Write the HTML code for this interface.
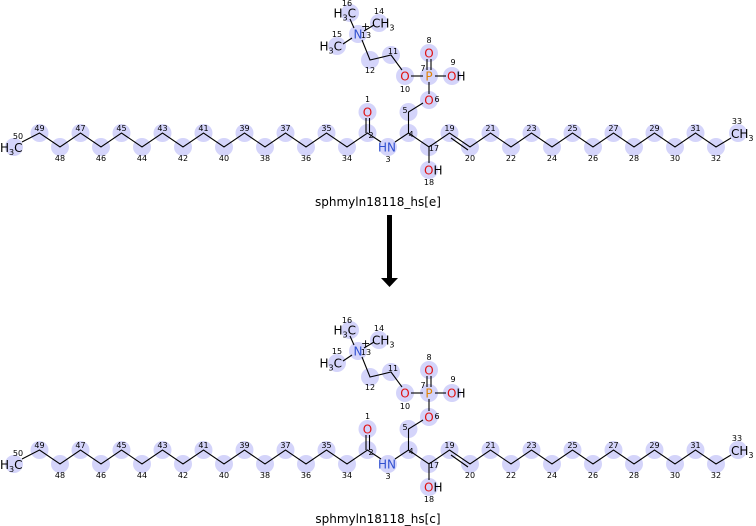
<!DOCTYPE html>
<html><head><meta charset="utf-8"><style>
html,body{margin:0;padding:0;background:#fff;width:756px;height:526px;overflow:hidden}
svg{display:block;font-family:"DejaVu Sans","Liberation Sans",sans-serif}
.c{fill:#d4d4fa}
.b{stroke:#000;stroke-width:1.1;fill:none}
.n{font-size:8px;fill:#000;text-anchor:middle}
.a{font-size:12px;text-anchor:middle}
.s{text-anchor:start}
.e{text-anchor:end}
.t{font-size:12px;text-anchor:middle;fill:#000}
</style></head><body>
<svg width="756" height="526" viewBox="0 0 756 526" xmlns="http://www.w3.org/2000/svg">
<g>
<g class="c">
<circle cx="14" cy="147" r="9"/><circle cx="39.5" cy="133" r="9"/><circle cx="60" cy="147" r="9"/><circle cx="80.5" cy="133" r="9"/><circle cx="101" cy="147" r="9"/><circle cx="121.5" cy="133" r="9"/><circle cx="142" cy="147" r="9"/><circle cx="162.5" cy="133" r="9"/><circle cx="183" cy="147" r="9"/><circle cx="203.5" cy="133" r="9"/><circle cx="224" cy="147" r="9"/><circle cx="244.5" cy="133" r="9"/><circle cx="265" cy="147" r="9"/><circle cx="285.5" cy="133" r="9"/><circle cx="306" cy="147" r="9"/><circle cx="326.5" cy="133" r="9"/><circle cx="347" cy="147" r="9"/><circle cx="367.5" cy="133" r="9"/><circle cx="367.5" cy="112" r="9"/><circle cx="388" cy="147" r="9"/><circle cx="408.5" cy="133" r="9"/><circle cx="408.5" cy="112" r="9"/><circle cx="429" cy="100" r="9"/><circle cx="429" cy="76" r="9"/><circle cx="429" cy="53" r="9"/><circle cx="452" cy="76" r="9"/><circle cx="405" cy="76" r="9"/><circle cx="391" cy="55" r="9"/><circle cx="370" cy="60" r="9"/><circle cx="358" cy="34" r="9"/><circle cx="379" cy="23" r="9"/><circle cx="337" cy="46" r="9"/><circle cx="350" cy="13" r="9"/><circle cx="429" cy="147" r="9"/><circle cx="429" cy="170" r="9"/><circle cx="449.5" cy="133" r="9"/><circle cx="470" cy="147" r="9"/><circle cx="490.5" cy="133" r="9"/><circle cx="511" cy="147" r="9"/><circle cx="531.5" cy="133" r="9"/><circle cx="552" cy="147" r="9"/><circle cx="572.5" cy="133" r="9"/><circle cx="593" cy="147" r="9"/><circle cx="613.5" cy="133" r="9"/><circle cx="634" cy="147" r="9"/><circle cx="654.5" cy="133" r="9"/><circle cx="675" cy="147" r="9"/><circle cx="695.5" cy="133" r="9"/><circle cx="716" cy="147" r="9"/><circle cx="738" cy="133" r="9"/>
</g>
<polyline class="b" points="22,142 39.5,133 60,147 80.5,133 101,147 121.5,133 142,147 162.5,133 183,147 203.5,133 224,147 244.5,133 265,147 285.5,133 306,147 326.5,133 347,147 367.5,133 381,142"/>
<line class="b" x1="366" y1="133" x2="366" y2="118"/><line class="b" x1="369.5" y1="133" x2="369.5" y2="118"/>
<polyline class="b" points="395,142 408.5,133 429,147 449.5,133 470,147 490.5,133 511,147 531.5,133 552,147 572.5,133 593,147 613.5,133 634,147 654.5,133 675,147 695.5,133 716,147 731,138"/>
<line class="b" x1="451" y1="138" x2="468" y2="150"/>
<line class="b" x1="429" y1="147" x2="429" y2="163"/>
<polyline class="b" points="408.5,133 408.5,112 423,103"/>
<line class="b" x1="429" y1="94" x2="429" y2="82"/>
<line class="b" x1="427" y1="70" x2="427" y2="59"/><line class="b" x1="431" y1="70" x2="431" y2="59"/>
<line class="b" x1="435" y1="76" x2="446" y2="76"/><line class="b" x1="411" y1="76" x2="423" y2="76"/>
<polyline class="b" points="402,70 391,55 370,60 362,40"/>
<line class="b" x1="352" y1="38" x2="343" y2="44"/>
<line class="b" x1="354" y1="28" x2="350" y2="19"/>
<line class="b" x1="364" y1="31" x2="374" y2="25"/>
<text class="a s" x="0" y="152" fill="#000">H<tspan font-size="8" dy="3">3</tspan><tspan dy="-3">C</tspan></text>
<text class="a s" x="731" y="138" fill="#000">CH<tspan font-size="8" dy="3">3</tspan></text>
<text class="a" x="367.5" y="116.5" fill="#e01010">O</text>
<text class="a e" x="396" y="151.5" fill="#3050d0">HN</text>
<text class="a" x="429" y="104.5" fill="#e01010">O</text>
<text class="a" x="429" y="80.5" fill="#e08000">P</text>
<text class="a" x="429" y="57.5" fill="#e01010">O</text>
<text class="a s" x="447" y="80.5" fill="#e01010">O<tspan fill="#000">H</tspan></text>
<text class="a" x="405" y="80.5" fill="#e01010">O</text>
<text class="a s" x="424" y="174.5" fill="#e01010">O<tspan fill="#000">H</tspan></text>
<text class="a" x="358" y="38.5" fill="#3050d0">N</text>
<text x="361" y="30" font-size="11" fill="#000">+</text>
<text class="a s" x="372" y="27.5" fill="#000">CH<tspan font-size="8" dy="3">3</tspan></text>
<text class="a e" x="342" y="50.5" fill="#000">H<tspan font-size="8" dy="3">3</tspan><tspan dy="-3">C</tspan></text>
<text class="a e" x="356" y="17.5" fill="#000">H<tspan font-size="8" dy="3">3</tspan><tspan dy="-3">C</tspan></text>
<g class="n">
<text x="18" y="139">50</text><text x="39.5" y="131">49</text><text x="60" y="161">48</text><text x="80.5" y="131">47</text><text x="101" y="161">46</text><text x="121.5" y="131">45</text><text x="142" y="161">44</text><text x="162.5" y="131">43</text><text x="183" y="161">42</text><text x="203.5" y="131">41</text><text x="224" y="161">40</text><text x="244.5" y="131">39</text><text x="265" y="161">38</text><text x="285.5" y="131">37</text><text x="306" y="161">36</text><text x="326.5" y="131">35</text><text x="347" y="161">34</text>
<text x="371" y="138">2</text><text x="367.5" y="102">1</text><text x="388" y="162">3</text><text x="411" y="137">4</text><text x="405" y="113">5</text><text x="437" y="102">6</text><text x="423" y="71">7</text><text x="429" y="43">8</text><text x="453" y="65">9</text><text x="405" y="92">10</text><text x="393" y="54">11</text><text x="370" y="73">12</text><text x="366" y="38">13</text><text x="379" y="14">14</text><text x="337" y="37">15</text><text x="347" y="6">16</text><text x="434" y="151">17</text><text x="429" y="185">18</text>
<text x="449.5" y="131">19</text><text x="470" y="161">20</text><text x="490.5" y="131">21</text><text x="511" y="161">22</text><text x="531.5" y="131">23</text><text x="552" y="161">24</text><text x="572.5" y="131">25</text><text x="593" y="161">26</text><text x="613.5" y="131">27</text><text x="634" y="161">28</text><text x="654.5" y="131">29</text><text x="675" y="161">30</text><text x="695.5" y="131">31</text><text x="716" y="161">32</text><text x="737" y="124">33</text>
</g>
</g>
<text class="t" x="378" y="206">sphmyln18118_hs[e]</text>
<rect x="387" y="215" width="5" height="64" fill="#000"/>
<polygon points="381,278 398,278 389.5,287" fill="#000"/>
<text class="t" x="378" y="523">sphmyln18118_hs[c]</text>
<g transform="translate(0,317)">
<g class="c">
<circle cx="14" cy="147" r="9"/><circle cx="39.5" cy="133" r="9"/><circle cx="60" cy="147" r="9"/><circle cx="80.5" cy="133" r="9"/><circle cx="101" cy="147" r="9"/><circle cx="121.5" cy="133" r="9"/><circle cx="142" cy="147" r="9"/><circle cx="162.5" cy="133" r="9"/><circle cx="183" cy="147" r="9"/><circle cx="203.5" cy="133" r="9"/><circle cx="224" cy="147" r="9"/><circle cx="244.5" cy="133" r="9"/><circle cx="265" cy="147" r="9"/><circle cx="285.5" cy="133" r="9"/><circle cx="306" cy="147" r="9"/><circle cx="326.5" cy="133" r="9"/><circle cx="347" cy="147" r="9"/><circle cx="367.5" cy="133" r="9"/><circle cx="367.5" cy="112" r="9"/><circle cx="388" cy="147" r="9"/><circle cx="408.5" cy="133" r="9"/><circle cx="408.5" cy="112" r="9"/><circle cx="429" cy="100" r="9"/><circle cx="429" cy="76" r="9"/><circle cx="429" cy="53" r="9"/><circle cx="452" cy="76" r="9"/><circle cx="405" cy="76" r="9"/><circle cx="391" cy="55" r="9"/><circle cx="370" cy="60" r="9"/><circle cx="358" cy="34" r="9"/><circle cx="379" cy="23" r="9"/><circle cx="337" cy="46" r="9"/><circle cx="350" cy="13" r="9"/><circle cx="429" cy="147" r="9"/><circle cx="429" cy="170" r="9"/><circle cx="449.5" cy="133" r="9"/><circle cx="470" cy="147" r="9"/><circle cx="490.5" cy="133" r="9"/><circle cx="511" cy="147" r="9"/><circle cx="531.5" cy="133" r="9"/><circle cx="552" cy="147" r="9"/><circle cx="572.5" cy="133" r="9"/><circle cx="593" cy="147" r="9"/><circle cx="613.5" cy="133" r="9"/><circle cx="634" cy="147" r="9"/><circle cx="654.5" cy="133" r="9"/><circle cx="675" cy="147" r="9"/><circle cx="695.5" cy="133" r="9"/><circle cx="716" cy="147" r="9"/><circle cx="738" cy="133" r="9"/>
</g>
<polyline class="b" points="22,142 39.5,133 60,147 80.5,133 101,147 121.5,133 142,147 162.5,133 183,147 203.5,133 224,147 244.5,133 265,147 285.5,133 306,147 326.5,133 347,147 367.5,133 381,142"/>
<line class="b" x1="366" y1="133" x2="366" y2="118"/><line class="b" x1="369.5" y1="133" x2="369.5" y2="118"/>
<polyline class="b" points="395,142 408.5,133 429,147 449.5,133 470,147 490.5,133 511,147 531.5,133 552,147 572.5,133 593,147 613.5,133 634,147 654.5,133 675,147 695.5,133 716,147 731,138"/>
<line class="b" x1="451" y1="138" x2="468" y2="150"/>
<line class="b" x1="429" y1="147" x2="429" y2="163"/>
<polyline class="b" points="408.5,133 408.5,112 423,103"/>
<line class="b" x1="429" y1="94" x2="429" y2="82"/>
<line class="b" x1="427" y1="70" x2="427" y2="59"/><line class="b" x1="431" y1="70" x2="431" y2="59"/>
<line class="b" x1="435" y1="76" x2="446" y2="76"/><line class="b" x1="411" y1="76" x2="423" y2="76"/>
<polyline class="b" points="402,70 391,55 370,60 362,40"/>
<line class="b" x1="352" y1="38" x2="343" y2="44"/>
<line class="b" x1="354" y1="28" x2="350" y2="19"/>
<line class="b" x1="364" y1="31" x2="374" y2="25"/>
<text class="a s" x="0" y="152" fill="#000">H<tspan font-size="8" dy="3">3</tspan><tspan dy="-3">C</tspan></text>
<text class="a s" x="731" y="138" fill="#000">CH<tspan font-size="8" dy="3">3</tspan></text>
<text class="a" x="367.5" y="116.5" fill="#e01010">O</text>
<text class="a e" x="396" y="151.5" fill="#3050d0">HN</text>
<text class="a" x="429" y="104.5" fill="#e01010">O</text>
<text class="a" x="429" y="80.5" fill="#e08000">P</text>
<text class="a" x="429" y="57.5" fill="#e01010">O</text>
<text class="a s" x="447" y="80.5" fill="#e01010">O<tspan fill="#000">H</tspan></text>
<text class="a" x="405" y="80.5" fill="#e01010">O</text>
<text class="a s" x="424" y="174.5" fill="#e01010">O<tspan fill="#000">H</tspan></text>
<text class="a" x="358" y="38.5" fill="#3050d0">N</text>
<text x="361" y="30" font-size="11" fill="#000">+</text>
<text class="a s" x="372" y="27.5" fill="#000">CH<tspan font-size="8" dy="3">3</tspan></text>
<text class="a e" x="342" y="50.5" fill="#000">H<tspan font-size="8" dy="3">3</tspan><tspan dy="-3">C</tspan></text>
<text class="a e" x="356" y="17.5" fill="#000">H<tspan font-size="8" dy="3">3</tspan><tspan dy="-3">C</tspan></text>
<g class="n">
<text x="18" y="139">50</text><text x="39.5" y="131">49</text><text x="60" y="161">48</text><text x="80.5" y="131">47</text><text x="101" y="161">46</text><text x="121.5" y="131">45</text><text x="142" y="161">44</text><text x="162.5" y="131">43</text><text x="183" y="161">42</text><text x="203.5" y="131">41</text><text x="224" y="161">40</text><text x="244.5" y="131">39</text><text x="265" y="161">38</text><text x="285.5" y="131">37</text><text x="306" y="161">36</text><text x="326.5" y="131">35</text><text x="347" y="161">34</text>
<text x="371" y="138">2</text><text x="367.5" y="102">1</text><text x="388" y="162">3</text><text x="411" y="137">4</text><text x="405" y="113">5</text><text x="437" y="102">6</text><text x="423" y="71">7</text><text x="429" y="43">8</text><text x="453" y="65">9</text><text x="405" y="92">10</text><text x="393" y="54">11</text><text x="370" y="73">12</text><text x="366" y="38">13</text><text x="379" y="14">14</text><text x="337" y="37">15</text><text x="347" y="6">16</text><text x="434" y="151">17</text><text x="429" y="185">18</text>
<text x="449.5" y="131">19</text><text x="470" y="161">20</text><text x="490.5" y="131">21</text><text x="511" y="161">22</text><text x="531.5" y="131">23</text><text x="552" y="161">24</text><text x="572.5" y="131">25</text><text x="593" y="161">26</text><text x="613.5" y="131">27</text><text x="634" y="161">28</text><text x="654.5" y="131">29</text><text x="675" y="161">30</text><text x="695.5" y="131">31</text><text x="716" y="161">32</text><text x="737" y="124">33</text>
</g>
</g>
</svg>
</body></html>
